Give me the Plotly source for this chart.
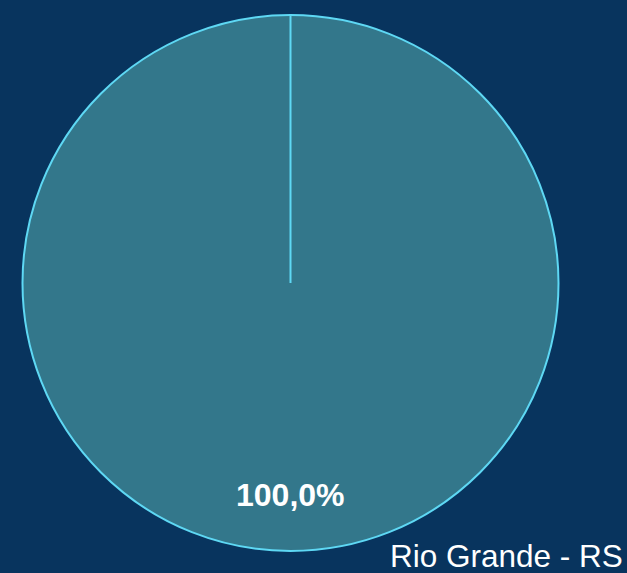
import plotly.graph_objects as go

# Share of the municipality total
labels = ["Rio Grande - RS"]
values = [100.0]

BG = "#08345e"
FILL = "#33778b"
EDGE = "#5ed8f4"

W, H = 627, 573
margin = dict(l=22, r=68, t=15, b=22)
pie_domain = dict(x=[0, 1], y=[0, 1])
start_angle = 0  # degrees clockwise from 12 o'clock

fig = go.Figure(
    go.Pie(
        labels=labels,
        values=values,
        sort=False,
        direction="clockwise",
        rotation=start_angle,
        domain=pie_domain,
        marker=dict(colors=[FILL], line=dict(color=EDGE, width=2)),
        textinfo="none",
        hoverinfo="label+percent",
        showlegend=False,
    )
)

# Slice start edge (centre to rim at the start angle); a full 100% slice
# is drawn as a bare circle, so the seam is added as a layout line.
cx = (pie_domain["x"][0] + pie_domain["x"][1]) / 2
cy = (pie_domain["y"][0] + pie_domain["y"][1]) / 2
plot_w = W - margin["l"] - margin["r"]
plot_h = H - margin["t"] - margin["b"]
r_px = min(plot_w, plot_h) / 2
fig.add_shape(
    type="line", xref="paper", yref="paper",
    x0=cx, y0=cy, x1=cx, y1=cy + r_px / plot_h,
    line=dict(color=EDGE, width=2),
)

total = sum(values)
pct_text = f"{values[0] / total * 100:.1f}".replace(".", ",") + "%"

fig.add_annotation(
    x=0.5, y=0.104, xref="paper", yref="paper",
    xanchor="center", yanchor="middle",
    text=f"<b>{pct_text}</b>", showarrow=False,
    font=dict(family="Liberation Sans, Arial", size=32, color="white"),
)
fig.add_annotation(
    x=1.0 + (margin["r"] - 2) / plot_w, y=-0.047, xref="paper", yref="paper",
    xanchor="right", yanchor="bottom",
    text=labels[0], showarrow=False,
    font=dict(family="Liberation Sans, Arial", size=31.5, color="white"),
)

fig.update_layout(
    width=W, height=H,
    margin=margin,
    paper_bgcolor=BG,
    plot_bgcolor=BG,
    separators=",.",
)

fig.write_html("out.html")
